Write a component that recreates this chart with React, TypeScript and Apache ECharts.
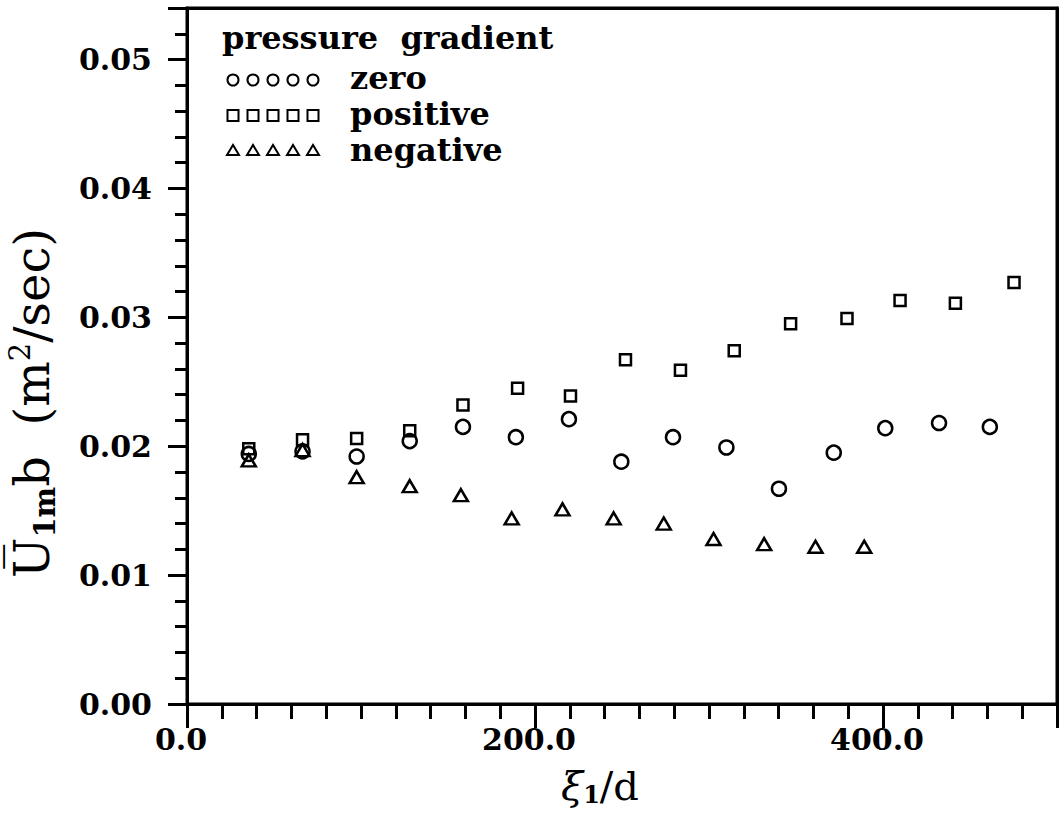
import React, { useEffect, useRef } from "react";
import * as echarts from "echarts";

// ---- data ----
const xZero = [35.5, 66.4, 97.5, 128, 158.6, 189, 219.5, 249.6, 279.3, 310, 340.2, 371.7, 401.3, 432.2, 461.4];
const yZero = [0.0194, 0.0196, 0.0192, 0.0204, 0.0215, 0.0207, 0.0221, 0.0188, 0.0207, 0.0199, 0.0167, 0.0195, 0.0214, 0.0218, 0.0215];
const xPos = [35.5, 66.4, 97.5, 128, 158.6, 190, 220.4, 252, 283.6, 314.5, 346.9, 379.3, 409.8, 441.6, 475.3];
const yPos = [0.0198, 0.0205, 0.0206, 0.0212, 0.0232, 0.0245, 0.0239, 0.0267, 0.0259, 0.0274, 0.0295, 0.0299, 0.0313, 0.0311, 0.0327];
const xNeg = [35.5, 66.4, 97.5, 128, 157.4, 186.6, 215.8, 245.2, 274, 302.6, 331.7, 361.2, 389.2];
const yNeg = [0.0189, 0.0197, 0.0176, 0.0169, 0.0162, 0.0144, 0.0151, 0.0144, 0.014, 0.0128, 0.0124, 0.0122, 0.0122];

const xMajorTicks = [0, 200, 400];
const yMajorTicks = [0, 0.01, 0.02, 0.03, 0.04, 0.05];
const legendTitle = "pressure  gradient";
const legendNames = ["zero", "positive", "negative"];

const FONT = "DejaVu Serif";

function zip(xs: number[], ys: number[]) {
  return xs.map((x, i) => [x, ys[i]]);
}

export default function App() {
  const ref = useRef<HTMLDivElement>(null);
  useEffect(() => {
    if (!ref.current) return;
    const chart = echarts.init(ref.current, null, { renderer: "svg" });
    const markerStyle = { color: "rgba(0,0,0,0)", borderColor: "#000", borderWidth: 2.5, opacity: 1 };
    const lx = [233, 253, 273, 293, 313];
    const legendGraphics: any[] = [
      {
        type: "text",
        left: 222,
        top: 22,
        style: { text: legendTitle, font: `bold 32px '${FONT}'`, fill: "#000" },
      },
    ];
    lx.forEach((cx) => {
      legendGraphics.push({ type: "circle", shape: { cx, cy: 80, r: 5.5 }, style: { fill: "none", stroke: "#000", lineWidth: 2 } });
      legendGraphics.push({ type: "rect", shape: { x: cx - 5.5, y: 110, width: 11, height: 11 }, style: { fill: "none", stroke: "#000", lineWidth: 2 } });
      legendGraphics.push({ type: "polygon", shape: { points: [[cx - 6, 155], [cx + 6, 155], [cx, 145]] }, style: { fill: "none", stroke: "#000", lineWidth: 2 } });
    });
    legendNames.forEach((n, i) => {
      legendGraphics.push({
        type: "text",
        x: 350,
        y: 78 + i * 36,
        style: { text: n, font: `bold 32px '${FONT}'`, fill: "#000", verticalAlign: "middle" },
      });
    });

    const baseX = { type: "value", min: 0, max: 500, splitLine: { show: false } };
    const baseY = { type: "value", min: 0, max: 0.054, splitLine: { show: false } };
    const frameLine = { show: true, onZero: false, lineStyle: { color: "#000", width: 3 } };
    const noLine = { show: false, onZero: false };

    chart.setOption({
      animation: false,
      backgroundColor: "#fff",
      grid: {
        left: 187,
        top: 8,
        width: 870,
        height: 696,
        containLabel: false,
        outerBoundsMode: "none",
        show: true,
        borderColor: "#000",
        borderWidth: 3,
        backgroundColor: "#fff",
      },
      xAxis: [
        {
          ...baseX,
          position: "bottom",
          interval: 20,
          axisLine: frameLine,
          axisTick: { show: true, length: 15, lineStyle: { color: "#000", width: 3 } },
          axisLabel: { show: false },
        },
        {
          ...baseX,
          position: "bottom",
          interval: 200,
          axisLine: noLine,
          axisTick: { show: true, length: 24, lineStyle: { color: "#000", width: 3 } },
          axisLabel: {
            show: true,
            customValues: xMajorTicks,
            margin: 20,
            formatter: (v: number) => v.toFixed(1),
            color: "#000",
            fontFamily: FONT,
            fontWeight: "bold",
            fontSize: 30,
            padding: [0, 12, 0, 0],
          },
          name: "{x|ξ}{s|1}{u|/d}",
          nameLocation: "middle",
          nameGap: 62,
          nameTextStyle: {
            padding: [0, 44, 0, 0],
            rich: {
              x: { fontFamily: FONT, fontSize: 40, fontStyle: "italic", color: "#000", lineHeight: 40 },
              s: { fontFamily: FONT, fontSize: 24, fontWeight: "bold", color: "#000", verticalAlign: "bottom", lineHeight: 24 },
              u: { fontFamily: FONT, fontSize: 40, color: "#000", lineHeight: 40 },
            },
          },
        },
        {
          ...baseX,
          position: "top",
          axisLine: frameLine,
          axisTick: { show: false },
          axisLabel: { show: false },
        },
      ],
      yAxis: [
        {
          ...baseY,
          position: "left",
          interval: 0.002,
          axisLine: frameLine,
          axisTick: { show: true, length: 12, lineStyle: { color: "#000", width: 3 } },
          axisLabel: { show: false },
        },
        {
          ...baseY,
          position: "left",
          interval: 0.01,
          axisLine: noLine,
          axisTick: { show: true, length: 19, lineStyle: { color: "#000", width: 3 } },
          axisLabel: {
            show: true,
            customValues: yMajorTicks,
            margin: 35,
            formatter: (v: number) => v.toFixed(2),
            color: "#000",
            fontFamily: FONT,
            fontWeight: "bold",
            fontSize: 30,
          },
          name: "{u|U\u0305}{s|1m}{u|b  (m}{p|2}{u|/sec)}",
          nameLocation: "middle",
          nameRotate: 90,
          nameGap: 128,
          nameTextStyle: {
            padding: [0, 94, 0, 0],
            rich: {
              u: { fontFamily: FONT, fontSize: 48, color: "#000", lineHeight: 54 },
              s: { fontFamily: FONT, fontSize: 29, fontWeight: "bold", color: "#000", verticalAlign: "bottom", lineHeight: 29 },
              p: { fontFamily: FONT, fontSize: 29, color: "#000", verticalAlign: "top", lineHeight: 29 },
            },
          },
        },
        {
          ...baseY,
          position: "right",
          axisLine: frameLine,
          axisTick: { show: false },
          axisLabel: { show: false },
        },
      ],
      series: [
        { name: "zero", type: "scatter", xAxisIndex: 0, yAxisIndex: 0, symbol: "circle", symbolSize: 14, itemStyle: markerStyle, data: zip(xZero, yZero), z: 3 },
        { name: "positive", type: "scatter", xAxisIndex: 0, yAxisIndex: 0, symbol: "rect", symbolSize: 11, itemStyle: markerStyle, data: zip(xPos, yPos), z: 3 },
        { name: "negative", type: "scatter", xAxisIndex: 0, yAxisIndex: 0, symbol: "triangle", symbolSize: [14, 12], itemStyle: markerStyle, data: zip(xNeg, yNeg), z: 3 },
      ],
      graphic: legendGraphics,
    });
    return () => chart.dispose();
  }, []);
  return <div ref={ref} style={{ position: "absolute", left: 0, top: 0, width: 1059, height: 813 }} />;
}
